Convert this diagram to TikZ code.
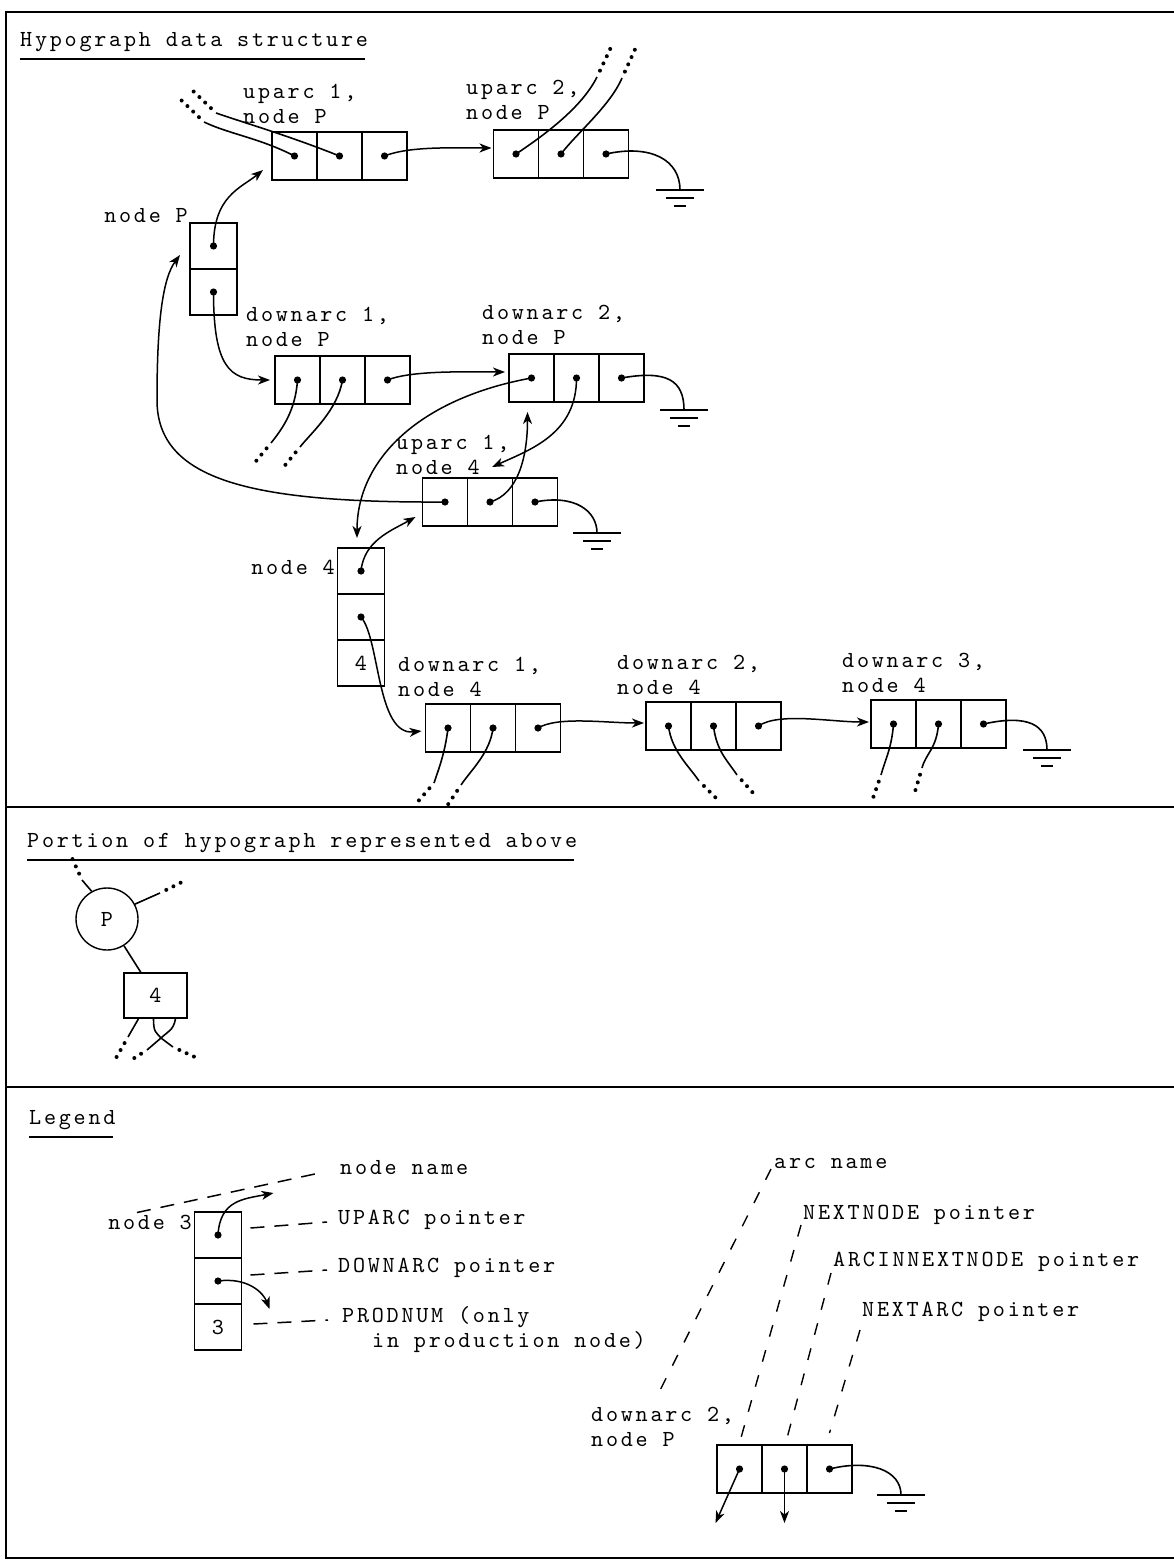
\documentclass[tikz,border=0pt]{standalone}
\usepackage{fontspec}
\newfontfamily\tw{lmmono10-regular.otf}[LetterSpace=12]
\usetikzlibrary{positioning,arrows.meta,calc}

\begin{document}
\begin{tikzpicture}[
  x=1pt, y=-1pt,
  font=\fontsize{23}{25}\selectfont\tw,
  cell/.style={draw, line width=1.4pt, minimum width=45pt, minimum height=48pt, inner sep=0pt, outer sep=0pt},
  vcell/.style={cell, minimum width=47pt, minimum height=46pt},
  lbl/.style={anchor=west, align=left, inner sep=0pt},
  ptr/.style={line width=1.5pt, -{Stealth[length=12pt, width=9pt, inset=3.5pt]}},
  lead/.style={line width=1.6pt},
  trail/.style={line width=4pt, line cap=round, dash pattern=on 0pt off 8pt, shorten <=7pt},
  leader/.style={line width=1.5pt, dash pattern=on 14pt off 10pt},
  slant/.style={line width=1.4pt, dash pattern=on 12pt off 14pt},
  rule/.style={line width=1.8pt},
  gnd/.pic={\draw[line width=1.5pt] (-24,0) -- (24,0) (-14,8) -- (14,8) (-6,16) -- (6,16);}
]
\useasboundingbox (0,0) rectangle (1174,1562);

% frame and section rules
\draw[rule] (1174,12) -- (6,12) -- (6,1558) -- (1174,1558);
\draw[rule] (6,807) -- (1174,807);
\draw[rule] (6,1087) -- (1174,1087);

% ---------------- hypograph data structure ----------------
\node[lbl] (t1) at (20,42) {Hypograph data structure};
\draw[rule] ($(t1.south west)+(0,7)$) -- ($(t1.south east)+(-3,7)$);

% node P
\node[vcell] (nPa) at (213.5,246) {};
\node[vcell, below=0pt of nPa] (nPb) {};
\node[lbl, anchor=east] (lnP) at (188,216) {node P};

% uparc 1 / uparc 2, node P
\node[cell] (u1Pa) at (294.5,156) {};
\node[cell, right=0pt of u1Pa] (u1Pb) {};
\node[cell, right=0pt of u1Pb] (u1Pc) {};
\node[lbl] (lu1P) at (243,104) {uparc 1,\\node P};
\node[cell] (u2Pa) at (516,154) {};
\node[cell, right=0pt of u2Pa] (u2Pb) {};
\node[cell, right=0pt of u2Pb] (u2Pc) {};
\node[lbl] (lu2P) at (466,100) {uparc 2,\\node P};

% downarc 1 / downarc 2, node P
\node[cell] (d1Pa) at (297.5,380) {};
\node[cell, right=0pt of d1Pa] (d1Pb) {};
\node[cell, right=0pt of d1Pb] (d1Pc) {};
\node[lbl] (ld1P) at (246,327) {downarc 1,\\node P};
\node[cell] (d2Pa) at (531.5,378) {};
\node[cell, right=0pt of d2Pa] (d2Pb) {};
\node[cell, right=0pt of d2Pb] (d2Pc) {};
\node[lbl] (ld2P) at (482,325) {downarc 2,\\node P};

% uparc 1, node 4
\node[cell] (u1n4a) at (445,502) {};
\node[cell, right=0pt of u1n4a] (u1n4b) {};
\node[cell, right=0pt of u1n4b] (u1n4c) {};
\node[lbl] (lu1n4) at (396,455) {uparc 1,\\node 4};

% node 4
\node[vcell] (n4a) at (361,571) {};
\node[vcell, below=0pt of n4a] (n4b) {};
\node[vcell, below=0pt of n4b] (n4c) {4};
\node[lbl, anchor=east] (ln4) at (335,567) {node 4};

% downarcs of node 4
\node[cell] (d1n4a) at (448,728) {};
\node[cell, right=0pt of d1n4a] (d1n4b) {};
\node[cell, right=0pt of d1n4b] (d1n4c) {};
\node[lbl] (ld1n4) at (398,677) {downarc 1,\\node 4};
\node[cell] (d2n4a) at (668.5,726) {};
\node[cell, right=0pt of d2n4a] (d2n4b) {};
\node[cell, right=0pt of d2n4b] (d2n4c) {};
\node[lbl] (ld2n4) at (617,675) {downarc 2,\\node 4};
\node[cell] (d3n4a) at (893.5,724) {};
\node[cell, right=0pt of d3n4a] (d3n4b) {};
\node[cell, right=0pt of d3n4b] (d3n4c) {};
\node[lbl] (ld3n4) at (842,673) {downarc 3,\\node 4};

% free ends
\coordinate (ta1) at (204,122); \coordinate (ta2) at (178,97);
\coordinate (tb1) at (216,113); \coordinate (tb2) at (191,89);
\coordinate (tc1) at (597,77);  \coordinate (tc2) at (613,43);
\coordinate (td1) at (622,78);  \coordinate (td2) at (637,45);
\coordinate (te1) at (271,443); \coordinate (te2) at (252,466);
\coordinate (tf1) at (300,447); \coordinate (tf2) at (282,469);
\coordinate (tg1) at (434,783); \coordinate (tg2) at (414,806);
\coordinate (th1) at (461,785); \coordinate (th2) at (447,806);
\coordinate (ti1) at (699,781); \coordinate (ti2) at (718,800);
\coordinate (tj1) at (737,775); \coordinate (tj2) at (754,794);
\coordinate (tk1) at (881,775); \coordinate (tk2) at (872,801);
\coordinate (tl1) at (922,768); \coordinate (tl2) at (914,795);
\coordinate (g1) at (680,190);
\coordinate (g2) at (684,410);
\coordinate (g3) at (597,533);
\coordinate (g4) at (1047,750);

% pointers
\draw[ptr] (nPa.center) .. controls +(0,-50) and +(-22,18) .. ($(u1Pa.south west)+(-9,-10)$);
\draw[ptr, shorten >=5pt] (nPb.center) .. controls +(0,75) and +(-45,0) .. (d1Pa.west);
\draw[ptr, shorten >=2pt] (u1Pc.center) .. controls +(25,-10) and +(-40,0) .. ($(u2Pa.west)+(0,-6)$);
\draw[ptr, shorten >=4pt] (d1Pc.center) .. controls +(25,-10) and +(-40,0) .. ($(d2Pa.west)+(0,-6)$);
\draw[ptr] (d2Pa.center) .. controls +(-110,20) and +(0,-80) .. ($(n4a.north)+(-4,-10)$);
\draw[ptr] (d2Pb.center) .. controls +(0,55) and +(40,-18) .. ($(u1n4b.north)+(2,-11)$);
\draw[ptr] (u1n4b.center) .. controls +(28,-8) and +(0,45) .. ($(d2Pa.south)+(-4,10)$);
\draw[ptr] (u1n4a.center) .. controls (250,503) and (157,480) .. (157,400)
  .. controls (157,320) and (163,278) .. ($(nPb.south west)+(-10,-60)$);
\draw[ptr] (n4a.center) .. controls +(3,-30) and +(-25,14) .. ($(u1n4a.south west)+(-7,-9)$);
\draw[ptr] (n4b.center) .. controls +(19,22) and +(-45,5) .. ($(d1n4a.west)+(-4,3)$);
\draw[ptr, shorten >=2pt] (d1n4c.center) .. controls +(20,-12) and +(-40,0) .. ($(d2n4a.west)+(0,-3)$);
\draw[ptr, shorten >=2pt] (d2n4c.center) .. controls +(20,-14) and +(-40,0) .. ($(d3n4a.west)+(0,-2)$);

% arcs leading elsewhere
\draw[lead] (u1Pa.center) .. controls +(-35,-18) and +(25,12) .. (ta1);
\draw[lead] (u1Pb.center) .. controls +(-50,-20) and +(35,12) .. (tb1);
\draw[lead] (u2Pa.center) .. controls +(30,-20) and +(-15,30) .. (tc1);
\draw[lead] (u2Pb.center) .. controls +(15,-20) and +(-12,28) .. (td1);
\draw[lead] (d1Pa.center) .. controls +(-2,30) and +(12,-15) .. (te1);
\draw[lead] (d1Pb.center) .. controls +(-5,30) and +(12,-15) .. (tf1);
\draw[lead] (d1n4a.center) .. controls +(-3,25) and +(5,-15) .. (tg1);
\draw[lead] (d1n4b.center) .. controls +(-3,25) and +(10,-15) .. (th1);
\draw[lead] (d2n4a.center) .. controls +(3,25) and +(-10,-15) .. (ti1);
\draw[lead] (d2n4b.center) .. controls +(3,25) and +(-10,-15) .. (tj1);
\draw[lead] (d3n4a.center) .. controls +(-2,25) and +(4,-15) .. (tk1);
\draw[lead] (d3n4b.center) .. controls +(-2,25) and +(4,-15) .. (tl1);
\draw[trail] (ta1) -- (ta2);
\draw[trail] (tb1) -- (tb2);
\draw[trail] (tc1) -- (tc2);
\draw[trail] (td1) -- (td2);
\draw[trail] (te1) -- (te2);
\draw[trail] (tf1) -- (tf2);
\draw[trail] (tg1) -- (tg2);
\draw[trail] (th1) -- (th2);
\draw[trail] (ti1) -- (ti2);
\draw[trail] (tj1) -- (tj2);
\draw[trail] (tk1) -- (tk2);
\draw[trail] (tl1) -- (tl2);

% ends of lists
\draw[lead] (u2Pc.center) .. controls +(45,-10) and +(0,-30) .. (g1);
\draw[lead] (d2Pc.center) .. controls +(45,-8) and +(0,-30) .. (g2);
\draw[lead] (u1n4c.center) .. controls +(40,-8) and +(0,-22) .. (g3);
\draw[lead] (d3n4c.center) .. controls +(45,-10) and +(0,-25) .. (g4);
\pic at (g1) {gnd};
\pic at (g2) {gnd};
\pic at (g3) {gnd};
\pic at (g4) {gnd};

% ---------------- portion of hypograph ----------------
\node[lbl] (t2) at (27,843) {Portion of hypograph represented above};
\draw[rule] ($(t2.south west)+(0,7)$) -- ($(t2.south east)+(-3,7)$);
\node[draw, circle, line width=1.4pt, minimum size=62pt, inner sep=0pt] (pc) at (107,919) {P};
\node[draw, line width=1.4pt, minimum width=63pt, minimum height=45pt, inner sep=0pt] (pb) at (155.5,995.5) {4};
\draw[lead] (pc) -- (pb);
\coordinate (pa1) at (82,880);   \coordinate (pa2) at (72,858);
\coordinate (pb1) at (160,893);  \coordinate (pb2) at (182,882);
\coordinate (pd1) at (128,1037); \coordinate (pd2) at (116,1058);
\coordinate (px) at (161,1038);
\coordinate (pe1) at (173,1047); \coordinate (pe2) at (197,1058);
\coordinate (pf1) at (147,1050); \coordinate (pf2) at (128,1062);
\draw[lead] (pc.119) -- (pa1);
\draw[lead] (pc.28) -- (pb1);
\draw[lead] ($(pb.south)+(-17,0)$) -- (pd1);
\draw[lead] ($(pb.south)+(-2,0)$) .. controls +(0,14) and +(-5,-6) .. (px) -- (pe1);
\draw[lead] ($(pb.south)+(20,0)$) .. controls +(-2,12) and +(6,-6) .. (px) -- (pf1);
\draw[trail] (pa1) -- (pa2);
\draw[trail] (pb1) -- (pb2);
\draw[trail] (pd1) -- (pd2);
\draw[trail] (pe1) -- (pe2);
\draw[trail] (pf1) -- (pf2);

% ---------------- legend ----------------
\node[lbl] (t3) at (29,1120) {Legend};
\draw[rule] ($(t3.south west)+(0,7)$) -- ($(t3.south east)+(-3,7)$);

\node[vcell] (n3a) at (218,1235) {};
\node[vcell, below=0pt of n3a] (n3b) {};
\node[vcell, below=0pt of n3b] (n3c) {3};
\node[lbl, anchor=east] (ln3) at (192,1222) {node 3};
\node[lbl] (lnn) at (340,1168) {node name};
\node[lbl] (lup) at (338,1220) {UPARC pointer};
\node[lbl] (ldn) at (338,1268) {DOWNARC pointer};
\node[lbl] (lpn) at (342,1330) {PRODNUM (only\\\hspace*{30pt}in production node)};
\draw[ptr] (n3a.center) .. controls +(2,-35) and +(-30,6) .. ($(n3a.north east)+(32,-19)$);
\draw[ptr] (n3b.center) .. controls +(30,-4) and +(-6,-16) .. ($(n3b.south east)+(28,5)$);
\draw[leader] ($(ln3.north east)+(-55,-2)$) -- ($(lnn.west)+(-16,4)$);
\draw[leader] ($(n3a.east)+(9,-7)$) -- ($(lup.west)+(-11,2)$);
\draw[leader] ($(n3b.east)+(9,-6)$) -- ($(ldn.west)+(-11,2)$);
\draw[leader] ($(n3c.east)+(12,-3)$) -- ($(lpn.west)+(-14,-10)$);

% arc record
\node[cell] (lga) at (739.5,1469) {};
\node[cell, right=0pt of lga] (lgb) {};
\node[cell, right=0pt of lgb] (lgc) {};
\node[lbl] (llg) at (591,1427) {downarc 2,\\node P};
\node[lbl] (lan) at (774,1163) {arc name};
\node[lbl] (lnx) at (803,1215) {NEXTNODE pointer};
\node[lbl] (lai) at (833,1262) {ARCINNEXTNODE pointer};
\node[lbl] (lna) at (862,1312) {NEXTARC pointer};
\draw[slant] ($(lan.west)+(-3,6)$) -- ($(llg.north)+(-6,-10)$);
\draw[slant] ($(lnx.west)+(-2,10)$) -- ($(lga.north)+(0,-2)$);
\draw[slant] ($(lai.west)+(-2,11)$) -- ($(lgb.north)+(2,-5)$);
\draw[slant] ($(lna.west)+(-2,18)$) -- ($(lgc.north)+(0,-12)$);
\coordinate (g5) at (901,1495);
\draw[ptr] (lga.center) -- ($(lga.south)+(-24,30)$);
\draw[ptr] (lgb.center) -- ($(lgb.south)+(0,30)$);
\draw[lead] (lgc.center) .. controls +(40,-10) and +(0,-25) .. (g5);
\pic at (g5) {gnd};

% pointer dots
\foreach \c in {u1Pa,u1Pb,u1Pc,u2Pa,u2Pb,u2Pc,d1Pa,d1Pb,d1Pc,d2Pa,d2Pb,d2Pc,
  u1n4a,u1n4b,u1n4c,d1n4a,d1n4b,d1n4c,d2n4a,d2n4b,d2n4c,d3n4a,d3n4b,d3n4c,
  nPa,nPb,n4a,n4b,n3a,n3b,lga,lgb,lgc}
  \fill (\c) circle (3.6pt);
\end{tikzpicture}
\end{document}
